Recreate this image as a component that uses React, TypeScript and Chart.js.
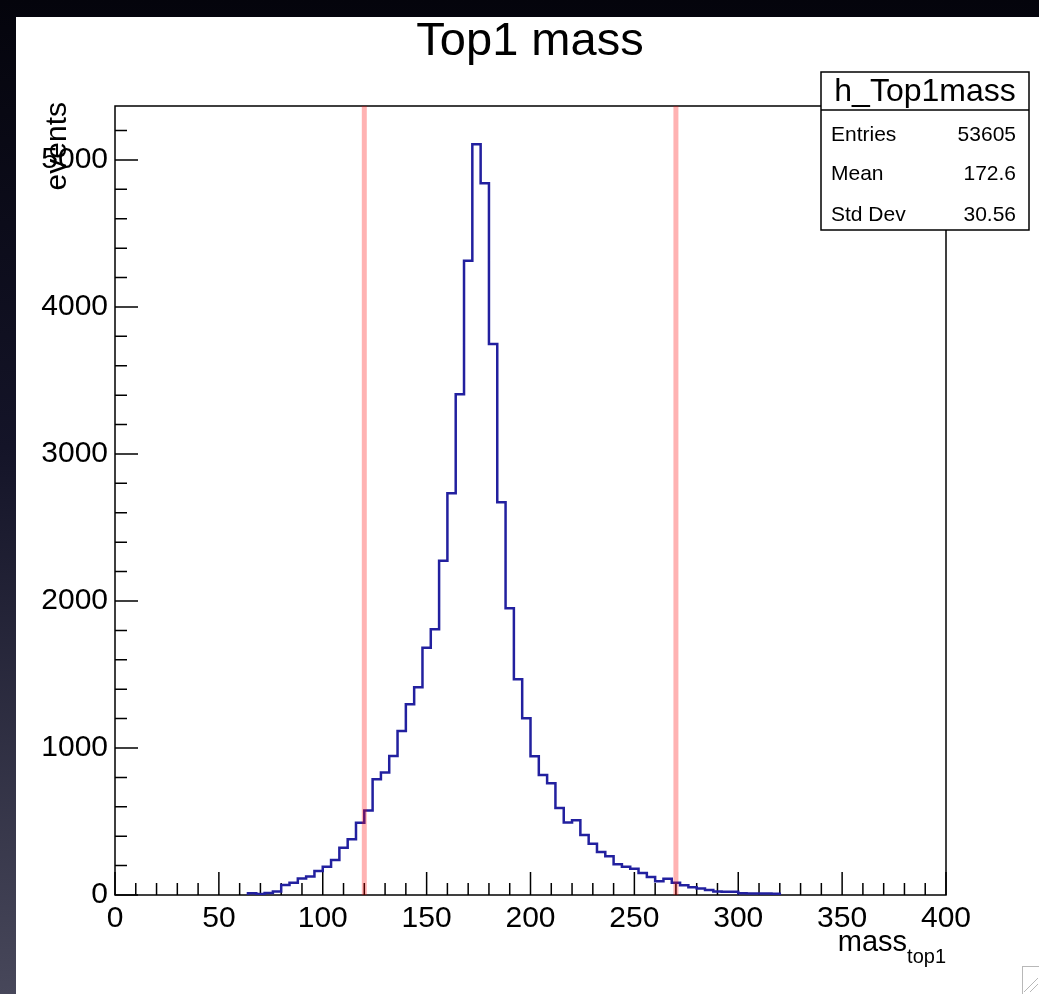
import React, { useEffect, useRef } from 'react';
import { Chart, registerables } from 'chart.js';

Chart.register(...registerables);

// ---- data ----
const titleText = 'Top1 mass';
const histName = 'h_Top1mass';
const binStart = 64;
const binWidth = 4;
const counts = [
  12, 6, 14, 24, 68, 84, 113, 125, 163, 193, 238, 322, 379, 492, 574, 787,
  833, 946, 1116, 1297, 1413, 1682, 1807, 2274, 2733, 3406, 4315, 5107, 4841, 3748, 2671, 1950,
  1467, 1202, 944, 816, 760, 591, 493, 508, 408, 349, 293, 263, 210, 192, 178, 150,
  122, 93, 111, 84, 66, 52, 45, 34, 24, 22, 22, 12, 11, 10, 10, 9,
];
const cutValues = [120, 270];
const xTickValues = [0, 50, 100, 150, 200, 250, 300, 350, 400];
const yTickValues = [0, 1000, 2000, 3000, 4000, 5000];
const xRange = [0, 400];
const yRange = [0, 5367];
const xMinorStep = 10;
const yMinorStep = 200;
const statsLabels = ['Entries', 'Mean', 'Std Dev'];
const statsValues = ['53605', '172.6', '30.56'];
const xTitleMain = 'mass';
const xTitleSub = 'top1';
const yTitle = 'events';

const FONT = "'Liberation Sans', Arial, Helvetica, sans-serif";

export default function App() {
  const ref = useRef<HTMLCanvasElement | null>(null);

  useEffect(() => {
    const canvas = ref.current;
    if (!canvas) return;

    const histPoints: { x: number; y: number }[] = [{ x: binStart, y: 0 }];
    counts.forEach((c, i) => histPoints.push({ x: binStart + i * binWidth, y: c }));
    histPoints.push({ x: binStart + counts.length * binWidth, y: 0 });

    const cutDatasets = cutValues.map((v) => ({
      type: 'line' as const,
      data: [
        { x: v, y: yRange[0] },
        { x: v, y: yRange[1] },
      ],
      borderColor: 'rgba(255,0,0,0.30)',
      borderWidth: 5,
      pointRadius: 0,
      fill: false,
      order: 0,
    }));

    const decor = {
      id: 'rootDecor',
      beforeDraw(chart: any) {
        const ctx = chart.ctx;
        const W = chart.width;
        const H = chart.height;
        ctx.save();
        const g = ctx.createLinearGradient(0, 0, 0, H);
        g.addColorStop(0, '#04040c');
        g.addColorStop(0.45, '#141428');
        g.addColorStop(1, '#47475a');
        ctx.fillStyle = g;
        ctx.fillRect(0, 0, W, H);
        ctx.fillStyle = '#ffffff';
        ctx.fillRect(16, 17, W - 16, H - 17);
        ctx.restore();
      },
      beforeDatasetsDraw(chart: any) {
        const ctx = chart.ctx;
        const a = chart.chartArea;
        const xs = chart.scales.x;
        const ys = chart.scales.y;
        ctx.save();
        ctx.strokeStyle = '#000';
        ctx.lineWidth = 1.5;
        ctx.beginPath();
        for (let v = xRange[0]; v <= xRange[1] + 1e-9; v += xMinorStep) {
          const px = xs.getPixelForValue(v);
          const len = v % 50 === 0 ? 23 : 12;
          ctx.moveTo(px, a.bottom);
          ctx.lineTo(px, a.bottom - len);
        }
        for (let v = yRange[0]; v <= yRange[1]; v += yMinorStep) {
          const py = ys.getPixelForValue(v);
          const len = v % 1000 === 0 ? 23 : 12;
          ctx.moveTo(a.left, py);
          ctx.lineTo(a.left + len, py);
        }
        ctx.stroke();
        ctx.lineWidth = 1.5;
        ctx.strokeRect(a.left, a.top, a.right - a.left, a.bottom - a.top);
        ctx.restore();
      },
      afterDraw(chart: any) {
        const ctx = chart.ctx;
        const a = chart.chartArea;
        ctx.save();
        ctx.fillStyle = '#000';
        // title
        ctx.font = `47px ${FONT}`;
        ctx.textAlign = 'center';
        ctx.textBaseline = 'alphabetic';
        ctx.fillText(titleText, 530, 55);

        // x title with subscript
        ctx.font = `20px ${FONT}`;
        const subW = ctx.measureText(xTitleSub).width;
        ctx.textAlign = 'right';
        ctx.fillText(xTitleSub, a.right, 963);
        ctx.font = `29px ${FONT}`;
        ctx.fillText(xTitleMain, a.right - subW, 951);

        // y title
        ctx.save();
        ctx.translate(66, a.top - 4);
        ctx.rotate(-Math.PI / 2);
        ctx.font = `30px ${FONT}`;
        ctx.textAlign = 'right';
        ctx.fillText(yTitle, 0, 0);
        ctx.restore();

        // stats box
        const bx = 821, by = 72, bw = 208, bh = 158, sep = 110;
        ctx.fillStyle = '#fff';
        ctx.fillRect(bx, by, bw, bh);
        ctx.strokeStyle = '#000';
        ctx.lineWidth = 1.5;
        ctx.strokeRect(bx, by, bw, bh);
        ctx.beginPath();
        ctx.moveTo(bx, sep);
        ctx.lineTo(bx + bw, sep);
        ctx.stroke();
        ctx.fillStyle = '#000';
        ctx.font = `32px ${FONT}`;
        ctx.textAlign = 'center';
        ctx.fillText(histName, bx + bw / 2, 101);
        ctx.font = `21px ${FONT}`;
        const rowBase = [141, 180, 221];
        statsLabels.forEach((lab, i) => {
          ctx.textAlign = 'left';
          ctx.fillText(lab, 831, rowBase[i]);
          ctx.textAlign = 'right';
          ctx.fillText(statsValues[i], 1016, rowBase[i]);
        });

        // resize grip
        ctx.strokeStyle = '#b8b8b8';
        ctx.lineWidth = 1;
        ctx.strokeRect(1022.5, 966.5, 20, 30);
        ctx.beginPath();
        ctx.moveTo(1024, 992);
        ctx.lineTo(1038, 978);
        ctx.moveTo(1030, 992);
        ctx.lineTo(1038, 984);
        ctx.stroke();
        ctx.restore();
      },
    };

    const chart = new Chart(canvas, {
      type: 'line',
      data: {
        datasets: [
          ...cutDatasets,
          {
            type: 'line',
            data: histPoints,
            borderColor: '#22209f',
            borderWidth: 2.5,
            pointRadius: 0,
            stepped: true,
            fill: false,
            tension: 0,
            order: 1,
          },
        ] as any,
      },
      options: {
        animation: false,
        responsive: false,
        devicePixelRatio: 1,
        events: [],
        layout: { padding: { top: 106, right: 93, left: 0, bottom: 0 } },
        plugins: {
          legend: { display: false },
          tooltip: { enabled: false },
          title: { display: false },
        },
        scales: {
          x: {
            type: 'linear',
            min: xRange[0],
            max: xRange[1],
            grid: { display: false, drawTicks: false },
            border: { display: false },
            ticks: {
              color: '#000',
              font: { family: FONT, size: 30 },
              padding: 6,
              maxRotation: 0,
              autoSkip: false,
              callback: (v: any) => String(v),
            },
            afterBuildTicks: (s: any) => {
              s.ticks = xTickValues.map((v) => ({ value: v }));
            },
            afterFit: (s: any) => {
              s.height = 99;
            },
          },
          y: {
            type: 'linear',
            min: yRange[0],
            max: yRange[1],
            grid: { display: false, drawTicks: false },
            border: { display: false },
            ticks: {
              color: '#000',
              font: { family: FONT, size: 30 },
              padding: 7,
              autoSkip: false,
              callback: (v: any) => String(v),
            },
            afterBuildTicks: (s: any) => {
              s.ticks = yTickValues.map((v) => ({ value: v }));
            },
            afterFit: (s: any) => {
              s.width = 115;
            },
          },
        },
      } as any,
      plugins: [decor],
    });

    return () => chart.destroy();
  }, []);

  return (
    <div style={{ position: 'fixed', left: 0, top: 0, width: 1039, height: 994 }}>
      <canvas ref={ref} width={1039} height={994} style={{ display: 'block', width: 1039, height: 994 }} />
    </div>
  );
}
